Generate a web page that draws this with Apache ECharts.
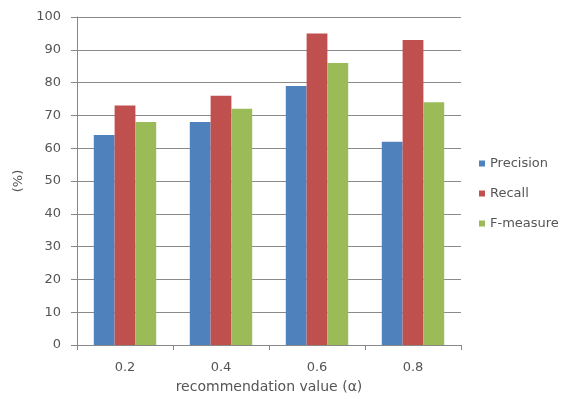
<!DOCTYPE html>
<html><head><meta charset="utf-8">
<script src="https://cdn.jsdelivr.net/npm/echarts@6/dist/echarts.min.js"></script>
<style>html,body{margin:0;padding:0;background:#fff}#c{width:569px;height:399px}</style>
</head><body><div id="c"></div>
<script>
const categories = ['0.2', '0.4', '0.6', '0.8'];
const precision = [64, 68, 79, 62];
const recall = [73, 76, 95, 93];
const fmeasure = [68, 72, 86, 74];
const yTicks = [0, 10, 20, 30, 40, 50, 60, 70, 80, 90, 100];

const chart = echarts.init(document.getElementById('c'), null, {renderer: 'canvas'});
const font = '"DejaVu Sans", sans-serif';
chart.setOption({
  animation: false,
  textStyle: {fontFamily: font},
  grid: {left: 77, right: 108, top: 17, bottom: 54},
  legend: {
    orient: 'vertical', left: 474, top: 152, itemGap: 17,
    itemWidth: 6, itemHeight: 6, icon: 'rect',
    textStyle: {fontSize: 13, color: '#555', fontFamily: font},
    data: ['Precision', 'Recall', 'F-measure']
  },
  xAxis: {
    type: 'category', data: categories,
    name: 'recommendation value (\u03b1)', nameLocation: 'middle', nameGap: 35,
    nameTextStyle: {fontSize: 14, color: '#555', fontFamily: font},
    axisLine: {lineStyle: {color: '#888'}},
    axisTick: {show: true, length: 5, lineStyle: {color: '#888'}},
    axisLabel: {fontSize: 13, color: '#555', margin: 16}
  },
  yAxis: {
    type: 'value', min: 0, max: 100, interval: 10,
    name: '(%)', nameLocation: 'middle', nameGap: 46, nameRotate: 90,
    nameTextStyle: {fontSize: 13, color: '#555', fontFamily: font},
    axisLine: {show: true, lineStyle: {color: '#888'}},
    axisTick: {show: true, length: 6, lineStyle: {color: '#888'}},
    axisLabel: {fontSize: 13, color: '#555', margin: 16,
      formatter: v => yTicks.includes(v) ? String(v) : ''},
    splitLine: {lineStyle: {color: '#8a8a8a', width: 1}}
  },
  series: [
    {name: 'Precision', type: 'bar', data: precision, itemStyle: {color: '#4F81BD'}, barGap: '0%', barCategoryGap: '35%'},
    {name: 'Recall', type: 'bar', data: recall, itemStyle: {color: '#C0504D'}},
    {name: 'F-measure', type: 'bar', data: fmeasure, itemStyle: {color: '#9BBB59'}}
  ]
});
</script></body></html>
